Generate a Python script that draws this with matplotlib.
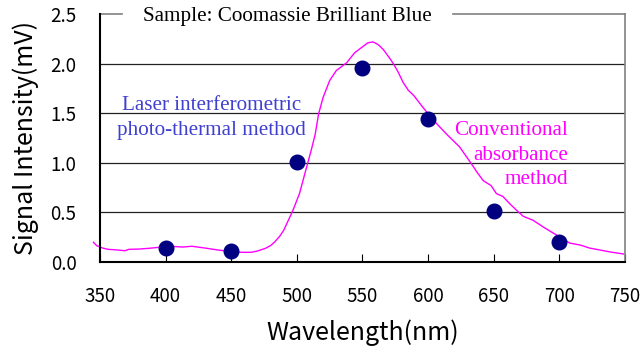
import matplotlib.pyplot as plt

# conventional absorbance spectrum (magenta curve)
spec_wl = [345, 347.5, 352, 356, 362, 369, 372, 380, 387, 397, 407, 413, 420, 430, 440,
           450, 458, 465, 470, 476, 480, 483, 487, 490, 493.5, 497, 502, 507.5, 511, 514,
           516.5, 520, 525, 530, 538, 544, 549, 554, 558, 561, 563, 566, 571, 573.5, 577,
           581, 585, 589, 596, 604, 614, 624, 633, 637, 642, 648, 652, 657, 662, 667.5,
           672.5, 680, 688, 698, 708, 716, 723, 731, 739, 749]
spec_mv = [0.198, 0.164, 0.14, 0.127, 0.122, 0.113, 0.127, 0.13, 0.137, 0.15, 0.155, 0.15, 0.158, 0.14, 0.12,
           0.105, 0.097, 0.097, 0.11, 0.137, 0.165, 0.2, 0.26, 0.32, 0.42, 0.52, 0.69, 0.96, 1.13, 1.29,
           1.49, 1.66, 1.83, 1.93, 2.01, 2.11, 2.16, 2.21, 2.22, 2.20, 2.18, 2.14, 2.05, 2.0, 1.92,
           1.81, 1.73, 1.68, 1.56, 1.43, 1.29, 1.16, 0.99, 0.91, 0.82, 0.77, 0.69, 0.66, 0.59, 0.52,
           0.46, 0.42, 0.35, 0.27, 0.19, 0.17, 0.14, 0.12, 0.10, 0.08]

# laser interferometric photo-thermal measurements (dots)
pt_wl = [400, 450, 500, 550, 600, 650, 700]
pt_mv = [0.144, 0.114, 1.01, 1.96, 1.44, 0.51, 0.204]

xticks = [350, 400, 450, 500, 550, 600, 650, 700, 750]
yticks = [0.0, 0.5, 1.0, 1.5, 2.0, 2.5]

sans = ['Noto Sans CJK JP', 'DejaVu Sans']
serif = ['Liberation Serif', 'DejaVu Serif']

fig = plt.figure(figsize=(6.41, 3.53), dpi=100)
ax = fig.add_axes([0.156, 0.258, 0.819, 0.702])

for y in yticks[1:-1]:
    ax.axhline(y, color='#222222', lw=0.9, zorder=1)

ax.plot(spec_wl, spec_mv, color='#ff00ff', lw=1.0, clip_on=False, zorder=2)
ax.plot(pt_wl, pt_mv, 'o', color='#000080', markersize=10.5, zorder=3)

ax.set_xlim(350, 750)
ax.set_ylim(0, 2.5)
ax.set_xticks(xticks)
ax.set_yticks(yticks)
ax.set_yticklabels([f'{v:.1f}' for v in yticks])
ax.tick_params(axis='x', direction='in', length=6, pad=17, labelsize=13.5, color='black')
ax.tick_params(axis='y', direction='in', length=0, pad=17, labelsize=13.5)
for lab in ax.get_xticklabels() + ax.get_yticklabels():
    lab.set_family(sans)

ax.spines['left'].set_linewidth(1.5)
ax.spines['bottom'].set_linewidth(1.5)
ax.spines['right'].set_color('#808080')
ax.spines['right'].set_linewidth(1.2)
ax.spines['top'].set_visible(False)
# top border broken by the sample caption
ax.axhline(2.5, xmin=0, xmax=0.042, color='#808080', lw=1.2, clip_on=False)
ax.axhline(2.5, xmin=0.672, xmax=1, color='#808080', lw=1.2, clip_on=False)

ax.set_xlabel('Wavelength(nm)', family=sans, fontsize=18, labelpad=9)
ax.set_ylabel('Signal Intensity(mV)', family=sans, fontsize=18, labelpad=8)

ax.text(0.357, 0.99, 'Sample: Coomassie Brilliant Blue', transform=ax.transAxes,
        ha='center', va='center', family=serif, fontsize=15.2, color='black')
ax.text(435, 1.45, 'Laser interferometric\nphoto-thermal method', ha='center', va='center',
        family=serif, fontsize=15.2, color='#4040d0', linespacing=1.4)
ax.text(706.5, 1.075, 'Conventional\nabsorbance\nmethod', ha='right', va='center',
        family=serif, fontsize=15.2, color='#ff00ff', linespacing=1.4)

fig.savefig('out.png', dpi=100)
